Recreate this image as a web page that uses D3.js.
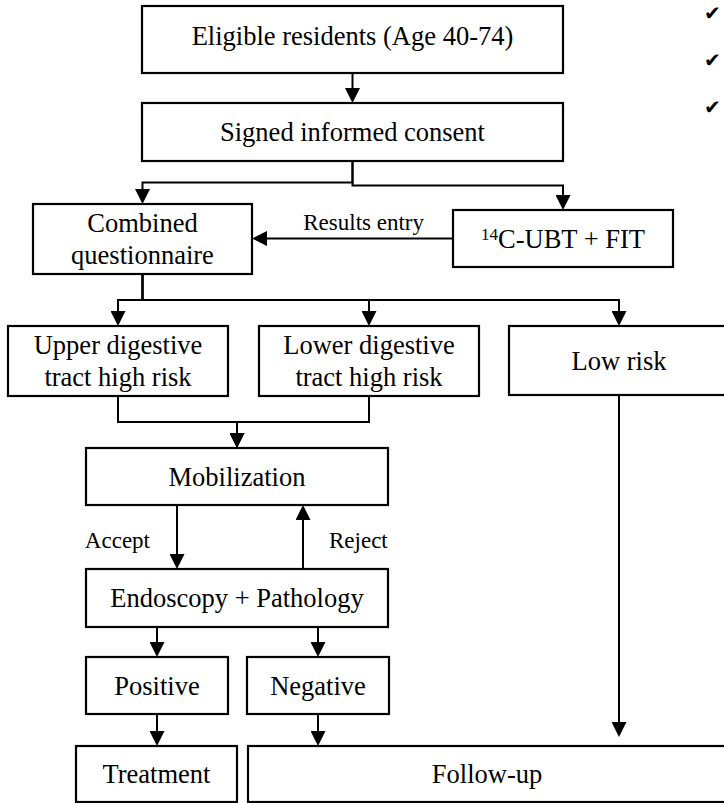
<!DOCTYPE html>
<html>
<head>
<meta charset="utf-8">
<script src="https://cdn.jsdelivr.net/npm/d3@7"></script>
<style>
  body { margin: 0; background: #fff; }
  svg { display: block; }
</style>
</head>
<body>
<div id="chart"></div>
<script>
// boxes of the flow chart and the text they hold (one entry per line)
var nodeIds = ['eligible', 'consent', 'questionnaire', 'ubt', 'upper', 'lower', 'low',
  'mobilization', 'endoscopy', 'positive', 'negative', 'treatment', 'followup'];
var nodeLines = [
  ['Eligible residents (Age 40-74)'],
  ['Signed informed consent'],
  ['Combined', 'questionnaire'],
  ['C-UBT + FIT'],
  ['Upper digestive', 'tract high risk'],
  ['Lower digestive', 'tract high risk'],
  ['Low risk'],
  ['Mobilization'],
  ['Endoscopy + Pathology'],
  ['Positive'],
  ['Negative'],
  ['Treatment'],
  ['Follow-up']
];
var nodeSup = { ubt: '14' };   // superscript before the text

// links: source, target, routing kind, label
var linkFrom  = ['eligible', 'consent', 'consent', 'ubt', 'questionnaire', 'questionnaire', 'questionnaire',
  'upper', 'lower', 'mobilization', 'endoscopy', 'endoscopy', 'endoscopy', 'positive', 'negative', 'low'];
var linkTo    = ['consent', 'questionnaire', 'ubt', 'questionnaire', 'upper', 'lower', 'low',
  'mobilization', 'mobilization', 'endoscopy', 'mobilization', 'positive', 'negative', 'treatment', 'followup', 'followup'];
var linkKind  = ['drop', 'bus', 'bus', 'left', 'bus', 'bus', 'bus',
  'bus', 'bus', 'lane', 'laneUp', 'dropTarget', 'dropTarget', 'drop', 'drop', 'drop'];
var linkLabel = ['', '', '', 'Results entry', '', '', '', '', '', 'Accept', 'Reject', '', '', '', '', ''];

var sideMarks = ['\u2714', '\u2714', '\u2714'];

/**
 * layout: box extents [x0, x1, y0, y1]
 */
var boxLayout = {
  eligible:      [142, 563, 6, 73],
  consent:       [142, 563, 103, 161],
  questionnaire: [33, 252, 204, 274],
  ubt:           [453, 673, 210, 267],
  upper:         [8, 228, 326, 396],
  lower:         [259, 479, 326, 396],
  low:           [509, 729, 326, 395],
  mobilization:  [86, 388, 448, 505],
  endoscopy:     [86, 388, 569, 627],
  positive:      [86, 228, 657, 714],
  negative:      [247, 389, 657, 714],
  treatment:     [76, 237, 746, 802],
  followup:      [248, 726, 746, 802]
};
var laneX = { Accept: 177, Reject: 303 };
var labelGap = 27;
var fontMain = 26.5, fontLabel = 23, lineStep = 31.5;

var W = 724, H = 803;
var svg = d3.select('#chart').append('svg')
  .attr('width', W).attr('height', H)
  .attr('viewBox', `0 0 ${W} ${H}`);

var head = 8; // how much of the arrow head sits beyond the line end
svg.append('defs').append('marker')
  .attr('id', 'arrow')
  .attr('viewBox', '0 -7.5 15 15')
  .attr('refX', 15 - head).attr('refY', 0)
  .attr('markerWidth', 15).attr('markerHeight', 15)
  .attr('markerUnits', 'userSpaceOnUse')
  .attr('orient', 'auto')
  .append('path').attr('d', 'M0,-7.5L15,0L0,7.5Z').attr('fill', '#000');

var nodes = nodeIds.map(function(id, i) {
  var b = boxLayout[id];
  return { id: id, lines: nodeLines[i], x0: b[0], x1: b[1], y0: b[2], y1: b[3],
    cx: (b[0] + b[1]) / 2, cy: (b[2] + b[3]) / 2 };
});
var byId = {};
nodes.forEach(function(n) { byId[n.id] = n; });

var links = linkFrom.map(function(f, i) {
  return { s: byId[f], t: byId[linkTo[i]], kind: linkKind[i], label: linkLabel[i] };
});

// path of each link, the last point is the arrow tip
function route(l) {
  var s = l.s, t = l.t, pts;
  if (l.kind == 'bus') {
    var yb = (s.y1 + t.y0) / 2;
    pts = [[s.cx, s.y1], [s.cx, yb], [t.cx, yb], [t.cx, t.y0]];
  } else if (l.kind == 'drop') {
    var tip = t.y0;
    if (s.cx > t.x0 && s.cx < t.x1 && s.y1 < t.y0 - 200) tip = t.y0 - 9;
    pts = [[s.cx, s.y1], [s.cx, tip]];
  } else if (l.kind == 'dropTarget') {
    pts = [[t.cx, s.y1], [t.cx, t.y0]];
  } else if (l.kind == 'left') {
    pts = [[s.x0, s.cy], [t.x1, s.cy]];
  } else if (l.kind == 'lane') {
    pts = [[laneX[l.label], s.y1], [laneX[l.label], t.y0]];
  } else if (l.kind == 'laneUp') {
    pts = [[laneX[l.label], s.y0], [laneX[l.label], t.y1]];
  }
  l.pts = pts;
  // shorten the last segment so the line hides under the arrow head
  var a = pts[pts.length - 2], b = pts[pts.length - 1];
  var dx = b[0] - a[0], dy = b[1] - a[1], len = Math.hypot(dx, dy);
  var cut = pts.slice(0, -1).concat([[b[0] - dx / len * head, b[1] - dy / len * head]]);
  return d3.line()(cut);
}

svg.append('g').selectAll('path')
  .data(links).enter().append('path')
  .attr('d', route)
  .attr('fill', 'none')
  .attr('stroke', '#000')
  .attr('stroke-width', 2)
  .attr('marker-end', 'url(#arrow)');

// link labels
svg.append('g').selectAll('text')
  .data(links.filter(function(l) { return l.label; })).enter().append('text')
  .attr('font-family', '"Liberation Serif", "Times New Roman", serif')
  .attr('font-size', fontLabel)
  .attr('fill', '#000')
  .each(function(l) {
    var t = d3.select(this);
    if (l.kind == 'left') {
      t.attr('x', l.s.x0 - 29).attr('y', l.s.cy - 9).attr('text-anchor', 'end');
    } else {
      var x = laneX[l.label];
      var yMid = l.kind == 'lane' ? (l.s.y1 + l.t.y0) / 2 : (l.t.y1 + l.s.y0) / 2;
      if (l.kind == 'lane') t.attr('x', x - labelGap).attr('text-anchor', 'end');
      else t.attr('x', x + labelGap - 1).attr('text-anchor', 'start');
      t.attr('y', yMid + 11);
    }
  })
  .text(function(l) { return l.label; });

// boxes
var box = svg.append('g').selectAll('g')
  .data(nodes).enter().append('g');

box.append('rect')
  .attr('x', function(d) { return d.x0; })
  .attr('y', function(d) { return d.y0; })
  .attr('width', function(d) { return d.x1 - d.x0; })
  .attr('height', function(d) { return d.y1 - d.y0; })
  .attr('fill', '#fff')
  .attr('stroke', '#000')
  .attr('stroke-width', 2.2);

box.append('text')
  .attr('font-family', '"Liberation Serif", "Times New Roman", serif')
  .attr('font-size', fontMain)
  .attr('fill', '#000')
  .attr('text-anchor', 'middle')
  .each(function(d) {
    var t = d3.select(this);
    var n = d.lines.length;
    d.lines.forEach(function(line, i) {
      var y = d.cy + (i - (n - 1) / 2) * lineStep + 0.34 * fontMain;
      if (d.id == 'eligible') y -= 4;
      var ts = t.append('tspan').attr('x', d.cx).attr('y', y);
      if (nodeSup[d.id]) {
        ts.append('tspan').attr('font-size', 17).attr('dy', -8).text(nodeSup[d.id]);
        ts.append('tspan').attr('dy', 8).text(line);
      } else {
        ts.text(line);
      }
    });
  });

// check marks at the right edge (cut off list)
svg.append('g').selectAll('text')
  .data(sideMarks).enter().append('text')
  .attr('x', 704)
  .attr('y', function(d, i) { return 20 + i * 47; })
  .attr('font-family', '"DejaVu Sans", sans-serif')
  .attr('font-size', 20)
  .attr('fill', '#000')
  .text(function(d) { return d; });
</script>
</body>
</html>
